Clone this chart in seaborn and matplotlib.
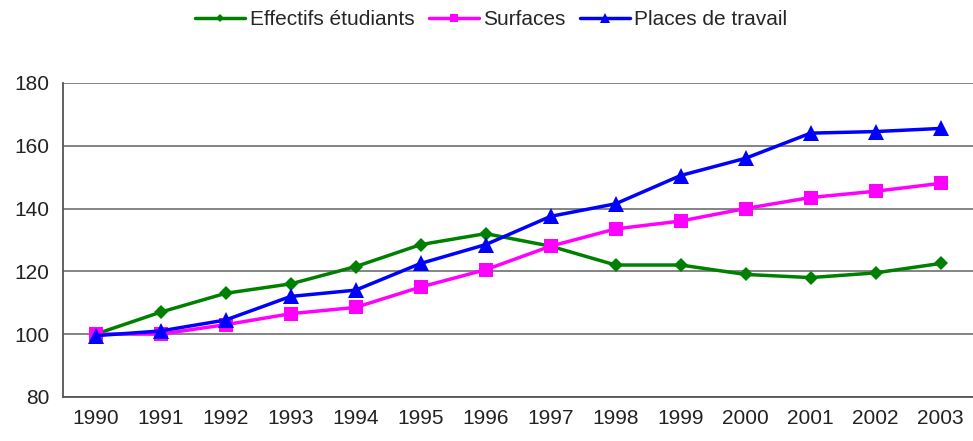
import numpy as np
import pandas as pd
import matplotlib
matplotlib.use("Agg")
import matplotlib.pyplot as plt
import seaborn as sns

# indices base 100 en 1990
years = list(range(1990, 2004))
effectifs = [100, 107, 113, 116, 121.5, 128.5, 132, 128, 122, 122, 119, 118, 119.5, 122.5]
surfaces = [100, 100, 103, 106.5, 108.5, 115, 120.5, 128, 133.5, 136, 140, 143.5, 145.5, 148]
places = [99.5, 101, 104.5, 112, 114, 122.5, 128.5, 137.5, 141.5, 150.5, 156, 164, 164.5, 165.5]

series_names = ["Effectifs étudiants", "Surfaces", "Places de travail"]

df = pd.DataFrame({
    "annee": years * 3,
    "valeur": effectifs + surfaces + places,
    "serie": [series_names[0]] * 14 + [series_names[1]] * 14 + [series_names[2]] * 14,
})

sns.set_style("white")
plt.rcParams["font.family"] = ["Liberation Sans", "DejaVu Sans"]

fig = plt.figure(figsize=(9.73, 4.41), dpi=100)
ax = fig.add_axes([0.065, 0.1, 0.935, 0.712])

palette = {series_names[0]: "#008000", series_names[1]: "#ff00ff", series_names[2]: "#0000ff"}
markers = {series_names[0]: "D", series_names[1]: "s", series_names[2]: "^"}
sizes = {series_names[0]: 7, series_names[1]: 10, series_names[2]: 11}

for name in series_names:
    sub = df[df["serie"] == name]
    sns.lineplot(data=sub, x="annee", y="valeur", color=palette[name], marker=markers[name],
                 markersize=sizes[name], markeredgewidth=0, linewidth=2.5, label=name, ax=ax)

ax.set_xlim(1989.5, 2003.5)
ax.set_ylim(80, 180)
ax.set_yticks(range(80, 181, 20))
ax.set_xticks(years)
ax.set_xticklabels([str(y) for y in years])
ax.set_xticks(np.arange(1990.5, 2003, 1), minor=True)
ax.tick_params(axis="x", which="major", length=0, pad=9, labelsize=15, colors="#222222")
ax.tick_params(axis="x", which="minor", length=5, width=1.2, color="#555555")
ax.tick_params(axis="y", length=5, width=1.2, color="#555555", labelsize=15, labelcolor="#222222", pad=5)
ax.set_xlabel("")
ax.set_ylabel("")

ax.yaxis.grid(True, color="#7a7a7a", linewidth=1.3)
ax.set_axisbelow(True)
for side in ["top", "right"]:
    ax.spines[side].set_visible(False)
ax.spines["left"].set_color("#555555")
ax.spines["left"].set_linewidth(1.3)
ax.spines["bottom"].set_color("#555555")
ax.spines["bottom"].set_linewidth(1.3)

handles, labels = ax.get_legend_handles_labels()
ax.legend(handles, labels, loc="center", bbox_to_anchor=(0.505, 0.955), bbox_transform=fig.transFigure,
          ncol=3, frameon=False, fontsize=15, handlelength=2.4, columnspacing=0.7,
          handletextpad=0.2, markerscale=0.6)

fig.savefig("out.png", dpi=100)
